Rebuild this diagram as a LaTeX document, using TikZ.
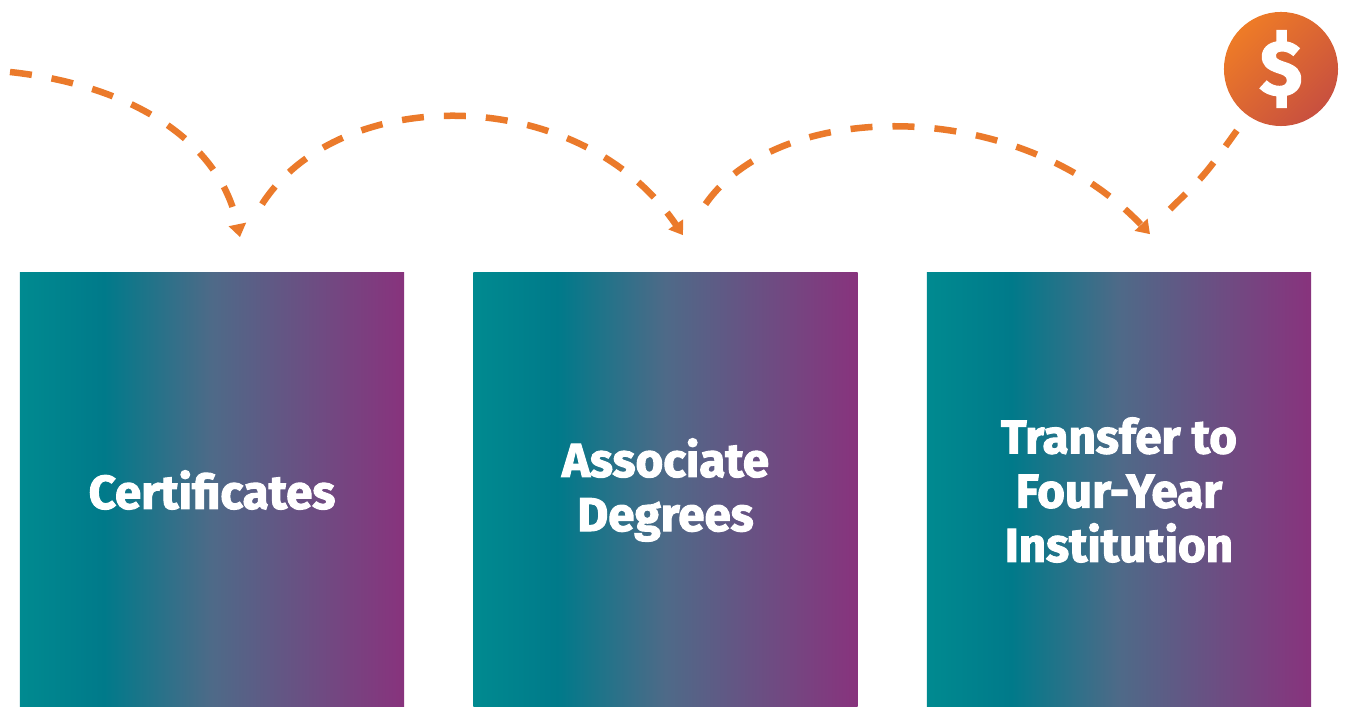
\documentclass[tikz,border=0pt]{standalone}
\usepackage{fontspec}
\newfontfamily\boxfont{Fira Sans}[BoldFeatures={FakeBold=2.2}]
\usetikzlibrary{arrows.meta}
\definecolor{hopOrange}{HTML}{EB7A2B}
\definecolor{gradTeal}{HTML}{008A90}
\definecolor{gradDeep}{HTML}{007A8A}
\definecolor{gradSlate}{HTML}{4E6A88}
\definecolor{gradPlum}{HTML}{88337D}
\definecolor{coinTop}{HTML}{EE7B27}
\definecolor{coinBottom}{HTML}{C8503F}
\pgfdeclarehorizontalshading{stagegrad}{100bp}{color(0bp)=(gradTeal); color(25bp)=(gradTeal); color(36bp)=(gradDeep); color(50bp)=(gradSlate); color(75bp)=(gradPlum); color(100bp)=(gradPlum)}
\begin{document}
\begin{tikzpicture}[x=0.01cm,y=-0.01cm,
        stage/.style={shade,shading=stagegrad,minimum width=3.84cm,minimum height=4.34cm,inner sep=0pt,
            text=white,align=center,font={\boxfont\bfseries\fontsize{13.5}{15.4}\selectfont}},
        coin/.style={circle,minimum size=1.14cm,inner sep=0pt,top color=coinTop,bottom color=coinBottom,
            shading angle=45,text=white,font={\boxfont\bfseries\fontsize{22}{24}\selectfont}},
        hop/.style={hopOrange,line width=0.065cm,dash pattern=on 0.22cm off 0.2cm,
            -{Triangle[length=0.13cm,width=0.17cm]}}]
        \useasboundingbox (0,0) rectangle (1347,707);
        \fill[white] (0,0) rectangle (1347,707);
        \coordinate (start) at (10,72);
        \node[stage] (cert) at (212,490) {Certificates};
        \node[stage] (assoc) at (665.5,490) {Associate\\Degrees};
        \node[stage] (transfer) at (1119,490) {Transfer to\\Four-Year\\Institution};
        \node[coin] (dollar) at (1281,69) {\$};

        \draw[hop] (start) .. controls (130,85) and (220,140) .. ([shift={(28,-35)}]cert.north);
        \draw[hop] ([shift={(50,-68)}]cert.north) .. controls (340,83) and (580,83) .. ([shift={(17.5,-37)}]assoc.north);
        \draw[hop] ([shift={(40,-68)}]assoc.north) .. controls (780,97) and (1020,97) .. ([shift={(31,-38)}]transfer.north);
        \draw[hop,-,shorten >=0.18cm] ([shift={(51,-63)}]transfer.north) .. controls (1205,175) .. (dollar);
    \end{tikzpicture}
\end{document}
